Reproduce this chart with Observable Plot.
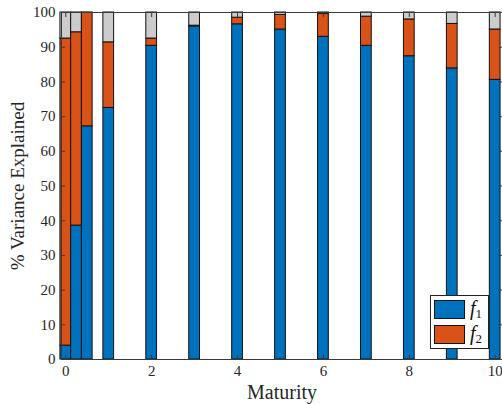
<!DOCTYPE html>
<html>
<head>
<meta charset="utf-8">
<script src="https://cdn.jsdelivr.net/npm/d3@7"></script>
<script src="https://cdn.jsdelivr.net/npm/@observablehq/plot@0.6"></script>
<style>
  body { margin: 0; background: #fff; overflow: hidden; }
  #wrap { position: relative; width: 502px; height: 404px; }
  .legend {
    position: absolute; left: 430px; top: 295px; width: 57px; height: 52px;
    border: 1px solid #222; background: #fff;
    font-family: "Liberation Serif", "DejaVu Serif", serif; font-size: 20px; color: #111;
  }
  .legend .sw { position: absolute; left: 3px; width: 29px; height: 17px; border: 1px solid #111; }
  .legend .lab { position: absolute; left: 39px; line-height: 19px; }
  .legend .lab sub { font-size: 13px; font-style: normal; vertical-align: -3px; }
</style>
</head>
<body>
<div id="wrap"></div>
<script>
// Maturities (years) and share of variance explained by each factor, in percent
const maturities = [0, 0.25, 0.5, 1, 2, 3, 4, 5, 6, 7, 8, 9, 10];
const f1 =   [4.0, 38.6, 67.2, 72.5, 90.4, 96.0, 96.6, 95.1, 93.0, 90.4, 87.4, 83.9, 80.6];
const f2 =   [88.5, 55.7, 32.7, 18.9, 2.1, 0.2, 1.9, 4.2, 6.6, 8.4, 10.6, 12.8, 14.5];
const rest = [7.5, 5.7, 0.1, 8.6, 7.5, 3.8, 1.5, 0.7, 0.4, 1.2, 2.0, 3.3, 4.9];

const seriesNames = ["f1", "f2", "rest"];
const seriesColors = ["#0072BD", "#D95319", "#CCCCCC"];
const legendLabels = [["f", "1"], ["f", "2"]];

const xTicks = [0, 2, 4, 6, 8, 10];
const yTicks = [0, 10, 20, 30, 40, 50, 60, 70, 80, 90, 100];
const xDomain = [-0.1, 10.17];
const barWidth = 0.25;

// Stack the three components for each maturity
const rows = [];
maturities.forEach((m, i) => {
  let base = 0;
  [f1[i], f2[i], rest[i]].forEach((v, k) => {
    rows.push({m, series: seriesNames[k], y1: base, y2: base + v});
    base += v;
  });
});

const axisColor = "#3a3a3a";
const font = "'Liberation Serif', 'DejaVu Serif', serif";

const chart = Plot.plot({
  width: 502,
  height: 404,
  marginLeft: 61,
  marginRight: 0,
  marginTop: 12,
  marginBottom: 45,
  style: {fontFamily: font, fontSize: "15px", color: "#262626", background: "#fff"},
  x: {domain: xDomain},
  y: {domain: [0, 100]},
  color: {domain: seriesNames, range: seriesColors},
  marks: [
    Plot.rect(rows, {
      x1: d => d.m - barWidth / 2,
      x2: d => d.m + barWidth / 2,
      y1: "y1",
      y2: "y2",
      fill: "series",
      stroke: "#111",
      strokeWidth: 1
    }),
    Plot.ruleY([0, 100], {stroke: axisColor}),
    Plot.ruleX([xDomain[0]], {stroke: axisColor}),
    Plot.axisY({anchor: "left", ticks: yTicks, tickSize: -4, tickPadding: 10, label: null, stroke: axisColor, fontSize: 15}),
    Plot.axisY({anchor: "right", ticks: yTicks, tickSize: -4, tickFormat: () => "", label: null, stroke: axisColor}),
    Plot.axisX({anchor: "bottom", ticks: xTicks, tickSize: -4, tickPadding: 10, label: null, stroke: axisColor, fontSize: 15}),
    Plot.axisX({anchor: "top", ticks: xTicks, tickSize: -4, tickFormat: () => "", label: null, stroke: axisColor}),
    Plot.text(["Maturity"], {frameAnchor: "bottom", dy: 39, lineAnchor: "bottom", fontSize: 20, fill: "#262626", letterSpacing: "0.6px"}),
    Plot.text(["% Variance Explained"], {frameAnchor: "left", dx: -38, rotate: -90, lineAnchor: "bottom", textAnchor: "middle", fontSize: 19, fill: "#262626", letterSpacing: "0.3px"})
  ]
});

const wrap = document.getElementById("wrap");
wrap.appendChild(chart);

// Legend for the first two factors
const legend = document.createElement("div");
legend.className = "legend";
legendLabels.forEach(([base, sub], k) => {
  const sw = document.createElement("div");
  sw.className = "sw";
  sw.style.top = (k === 0 ? 4 : 29) + "px";
  sw.style.background = seriesColors[k];
  legend.appendChild(sw);
  const lab = document.createElement("div");
  lab.className = "lab";
  lab.style.top = (k === 0 ? 3 : 28) + "px";
  lab.innerHTML = `<i>${base}</i><sub>${sub}</sub>`;
  legend.appendChild(lab);
});
wrap.appendChild(legend);
</script>
</body>
</html>
